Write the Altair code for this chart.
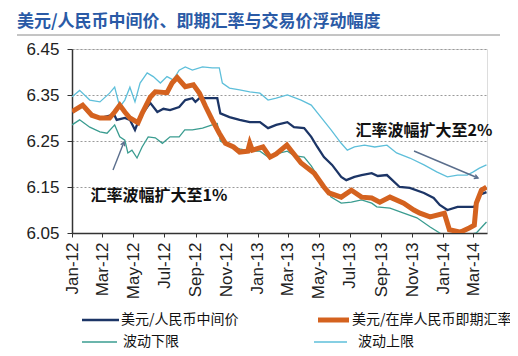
import altair as alt
import pandas as pd

# ---------------- data ----------------
mid_dates = ["2012-01-01","2012-01-16","2012-01-22","2012-02-05","2012-02-25","2012-03-15","2012-03-25",
             "2012-03-29","2012-04-14","2012-04-24","2012-05-04","2012-05-14","2012-06-03","2012-06-17",
             "2012-06-29","2012-07-12","2012-07-30","2012-08-11","2012-08-25","2012-08-31","2012-09-08",
             "2012-09-28","2012-10-13","2012-10-19","2012-11-06","2012-11-26","2012-12-16","2013-01-05",
             "2013-01-21","2013-02-06","2013-02-28","2013-03-13","2013-04-02","2013-04-16","2013-04-28",
             "2013-05-11","2013-05-27","2013-06-14","2013-06-24","2013-07-10","2013-07-24","2013-08-13",
             "2013-08-25","2013-09-12","2013-10-07","2013-10-27","2013-11-24","2013-12-13","2013-12-25",
             "2014-01-09","2014-01-29","2014-02-17","2014-03-03","2014-03-13","2014-03-27"]
mid_vals = [6.312,6.322,6.326,6.308,6.300,6.305,6.305,
            6.296,6.300,6.296,6.274,6.302,6.333,6.313,
            6.320,6.317,6.324,6.339,6.343,6.335,6.343,
            6.343,6.343,6.310,6.302,6.296,6.291,6.291,
            6.278,6.285,6.291,6.280,6.278,6.259,6.237,
            6.215,6.198,6.172,6.165,6.172,6.176,6.180,
            6.174,6.176,6.150,6.148,6.137,6.126,6.111,
            6.100,6.107,6.107,6.107,6.133,6.139]

spot_dates = ["2012-01-01","2012-01-22","2012-02-09","2012-02-25","2012-03-15","2012-03-25","2012-04-04",
              "2012-04-14","2012-04-24","2012-05-10","2012-05-18","2012-06-03","2012-06-13","2012-07-06",
              "2012-07-16","2012-07-26","2012-08-11","2012-08-27","2012-09-08","2012-09-20","2012-10-03",
              "2012-10-17","2012-10-29","2012-11-14","2012-11-26","2012-12-12","2012-12-16","2012-12-21",
              "2013-01-11","2013-01-25","2013-02-06","2013-02-27","2013-03-07","2013-03-27","2013-04-22",
              "2013-05-11","2013-05-21","2013-06-14","2013-07-04","2013-07-24","2013-08-13","2013-08-29",
              "2013-09-18","2013-10-15","2013-11-04","2013-11-16","2013-12-06","2014-01-03","2014-01-13",
              "2014-02-04","2014-02-21","2014-03-03","2014-03-07","2014-03-17","2014-03-27"]
spot_vals = [6.314,6.328,6.306,6.300,6.300,6.313,6.328,
             6.313,6.300,6.290,6.310,6.345,6.357,6.355,
             6.376,6.388,6.368,6.372,6.354,6.325,6.296,
             6.267,6.245,6.237,6.226,6.228,6.245,6.230,
             6.237,6.215,6.222,6.241,6.230,6.202,6.180,
             6.150,6.137,6.128,6.143,6.128,6.126,6.117,
             6.128,6.115,6.100,6.093,6.085,6.093,6.057,
             6.052,6.061,6.067,6.115,6.143,6.150]

up_dates = ["2012-01-01","2012-01-16","2012-02-05","2012-02-25","2012-03-15","2012-03-25","2012-04-04",
            "2012-04-14","2012-04-24","2012-05-04","2012-05-14","2012-05-28","2012-06-09","2012-06-23",
            "2012-07-06","2012-07-18","2012-07-30","2012-08-11","2012-08-25","2012-09-14","2012-10-03",
            "2012-10-17","2012-10-23","2012-11-06","2012-11-26","2012-12-16","2013-01-05","2013-01-21",
            "2013-02-06","2013-02-28","2013-03-27","2013-04-16","2013-05-05","2013-05-25","2013-06-14",
            "2013-06-26","2013-07-10","2013-07-30","2013-08-19","2013-09-12","2013-10-01","2013-10-27",
            "2013-11-24","2013-12-19","2014-01-09","2014-01-29","2014-02-17","2014-03-01","2014-03-13",
            "2014-03-27"]
up_vals = [6.346,6.360,6.339,6.335,6.354,6.367,6.324,
           6.339,6.367,6.335,6.376,6.398,6.390,6.376,
           6.390,6.383,6.404,6.411,6.404,6.411,6.409,
           6.409,6.376,6.365,6.361,6.357,6.354,6.339,
           6.343,6.350,6.339,6.328,6.302,6.274,6.245,
           6.230,6.237,6.241,6.237,6.241,6.224,6.213,
           6.198,6.183,6.172,6.176,6.176,6.183,6.191,
           6.198]

low_dates = ["2012-01-01","2012-01-16","2012-02-05","2012-02-25","2012-03-10","2012-03-25","2012-04-04",
             "2012-04-14","2012-04-20","2012-04-28","2012-05-08","2012-05-18","2012-05-30","2012-06-13",
             "2012-06-27","2012-07-12","2012-07-30","2012-08-10","2012-08-25","2012-09-14","2012-10-03",
             "2012-10-13","2012-10-19","2012-11-06","2012-11-26","2012-12-16","2013-01-05","2013-01-21",
             "2013-02-06","2013-02-28","2013-03-13","2013-04-02","2013-04-16","2013-04-28","2013-05-11",
             "2013-05-25","2013-06-14","2013-07-04","2013-07-24","2013-08-13","2013-08-23","2013-09-18",
             "2013-10-15","2013-11-10","2013-12-06","2013-12-25","2014-01-09","2014-01-29","2014-02-17",
             "2014-03-07","2014-03-27"]
low_vals = [6.285,6.296,6.280,6.270,6.267,6.285,6.259,
            6.252,6.224,6.230,6.213,6.237,6.259,6.257,
            6.245,6.259,6.259,6.274,6.274,6.278,6.285,
            6.288,6.250,6.239,6.233,6.228,6.228,6.215,
            6.222,6.228,6.218,6.215,6.196,6.175,6.153,
            6.128,6.115,6.117,6.122,6.115,6.107,6.104,
            6.093,6.083,6.063,6.050,6.043,6.045,6.046,
            6.050,6.074]

y_ticks = [6.05, 6.15, 6.25, 6.35, 6.45]
x_tick_months = [(2012, 1), (2012, 3), (2012, 5), (2012, 7), (2012, 9), (2012, 11),
                 (2013, 1), (2013, 3), (2013, 5), (2013, 7), (2013, 9), (2013, 11),
                 (2014, 1), (2014, 3)]

title_text = "美元/人民币中间价、即期汇率与交易价浮动幅度"
names = ["美元/人民币中间价", "美元/在岸人民币即期汇率", "波动下限", "波动上限"]
note1 = "汇率波幅扩大至1%"
note2 = "汇率波幅扩大至2%"

C_MID, C_SPOT, C_LOW, C_UP = "#1c3566", "#d4621f", "#3a9c90", "#5ebfda"
CJK = "Noto Sans CJK SC"

# ---------------- chart ----------------
def frame(d, v, n):
    return pd.DataFrame({"date": d, "value": v, "series": n})

x_enc = alt.X("date:T", title=None,
              scale=alt.Scale(type="utc",
                              domain=[alt.DateTime(year=2012, month=1, date=1, utc=True),
                                      alt.DateTime(year=2014, month=3, date=28, utc=True)]),
              axis=alt.Axis(values=[alt.DateTime(year=y, month=m, date=1, utc=True) for y, m in x_tick_months],
                            labelExpr="utcFormat(datum.value, '%b-%y')", labelAngle=-90, labelAlign="right",
                            labelBaseline="middle", labelPadding=5, labelFontSize=17,
                            labelFont="Liberation Sans", labelColor="#222", tickSize=4,
                            tickColor="#333", domainColor="#333", domainWidth=1.5, grid=False,
                            labelOverlap=False))
y_enc = alt.Y("value:Q", title=None,
              scale=alt.Scale(domain=[6.05, 6.45], nice=False, zero=False),
              axis=alt.Axis(values=y_ticks, format=".2f", labelFontSize=17, labelFont="Liberation Sans",
                            labelColor="#222", labelPadding=8, tickSize=5, tickColor="#333",
                            domainColor="#333", domainWidth=1.5, grid=True, gridDash=[2, 2],
                            gridColor="#9a9a9a", gridWidth=1))

def line(df, color, w):
    return alt.Chart(df).mark_line(color=color, strokeWidth=w, clip=True).encode(x=x_enc, y=y_enc)

lines = [
    line(frame(up_dates, up_vals, names[3]), C_UP, 1.3),
    line(frame(low_dates, low_vals, names[2]), C_LOW, 1.3),
    line(frame(mid_dates, mid_vals, names[0]), C_MID, 2.3),
    line(frame(spot_dates, spot_vals, names[1]), C_SPOT, 5),
]

one = pd.DataFrame({"a": [0]})

def txt(s, x, y, size, color="#111", weight="normal", align="left"):
    return alt.Chart(one).mark_text(text=s, align=align, baseline="middle", fontSize=size,
                                    fontWeight=weight, color=color, font=CJK).encode(
        x=alt.value(x), y=alt.value(y))

def seg(x1, y1, x2, y2, color, w):
    return alt.Chart(one).mark_rule(color=color, strokeWidth=w).encode(
        x=alt.value(x1), y=alt.value(y1), x2=alt.value(x2), y2=alt.value(y2))

def head(x, y, ang, color):
    return alt.Chart(one).mark_point(shape="M -0.5 0.9 L 0 0 L 0.5 0.9", filled=False, size=70,
                                     angle=ang, color=color, strokeWidth=1.4, opacity=1).encode(
        x=alt.value(x), y=alt.value(y))

ARW = "#5a6e8c"
extras = [
    txt(title_text, -55, -27, 17, color="#2a5aa6", weight="bold"),
    seg(-55, -14, 428, -14, "#8a8a8a", 1),
    txt(note1, 87, 147, 16, weight="bold", align="center"),
    txt(note2, 352, 82, 16, weight="bold", align="center"),
    seg(41, 121, 52, 93, ARW, 1.4), head(52, 93, 21, ARW),
    seg(342, 102, 406, 129, ARW, 1.4), head(406, 129, 113, ARW),
    # legend
    seg(10, 271, 47, 271, C_MID, 2.3), txt(names[0], 49, 271, 14),
    seg(246, 271, 277, 271, C_SPOT, 5), txt(names[1], 280, 271, 14),
    seg(10, 293, 45, 293, C_LOW, 1.5), txt(names[2], 51, 293, 14),
    seg(242, 293, 275, 293, C_UP, 1.5), txt(names[3], 286, 293, 14),
]

chart = alt.layer(*lines, *extras).properties(
    width=415, height=184,
    autosize=alt.AutoSizeParams(type="none"),
    padding={"left": 64, "top": 41, "right": 23, "bottom": 120},
).configure_view(stroke=None).configure(background="white")

chart.save("out.html", embed_options={"renderer": "svg", "actions": False})
